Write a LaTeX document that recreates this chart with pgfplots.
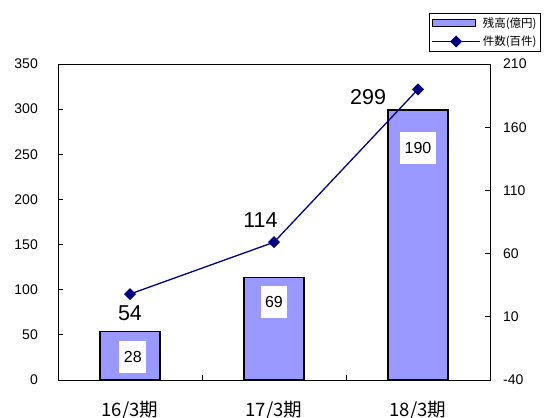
\documentclass[border=0pt]{standalone}
\usepackage{pgfplots}
\pgfplotsset{compat=1.18}
\usepackage{fontspec}
\setmainfont{Liberation Sans}
\newfontfamily\cjk{Noto Sans CJK JP}
\definecolor{barblue}{RGB}{153,153,255}
\definecolor{navyline}{RGB}{0,0,128}
\pgfplotsset{
  lineleg/.style={legend image code/.code={
    \draw[mark repeat=2, mark phase=2, ##1] plot coordinates {(0pt,0pt) (24pt,0pt) (48pt,0pt)};}},
  barleg/.style={legend image code/.code={
    \draw[fill=barblue, draw=black, line width=1pt] (0pt,-3.5pt) rectangle (43pt,3.5pt);}},
}

\begin{document}
\begin{tikzpicture}
\useasboundingbox (0,0) rectangle (552pt,418pt);
\pgfplotsset{
  common/.style={
    at={(58pt,38pt)}, anchor=south west,
    scale only axis, width=432pt, height=316pt,
    xmin=-0.5, xmax=2.5,
    tick align=inside, major tick length=5pt,
    axis line style={line width=0.9pt},
    tick style={line width=0.9pt, black},
    /pgf/number format/assume math mode=true,
    ticklabel style={font=\fontsize{14}{16}\selectfont},
  }
}
% left axis: balance (bars)
\begin{axis}[common,
  ymin=0, ymax=350, ytick={0,50,...,350}, ytick pos=left,
  xtick={0.5,1.5}, xticklabels={,}, xtick pos=bottom,
  extra x ticks={0,1,2},
  extra x tick labels={16/3期,17/3期,18/3期},
  extra x tick style={major tick length=0pt,
    tick label style={font=\cjk\fontsize{18.5}{20}\selectfont, anchor=base, yshift=-36pt}},
  yticklabel style={anchor=east, inner sep=0pt, xshift=-20pt},
]
\addplot[ybar, bar width=60pt, fill=barblue, draw=black, line width=1.1pt]
  coordinates {(0,54) (1,114) (2,299)};
\node[font=\fontsize{21.5}{24}\selectfont] at (axis cs:0,74) {54};
\node[font=\fontsize{21.5}{24}\selectfont] at (axis cs:0.906,177) {114};
\node[font=\fontsize{21.5}{24}\selectfont] at (axis cs:1.653,313) {299};
\tikzset{inbox/.style={fill=white, inner xsep=4.5pt, inner ysep=0pt,
  minimum height=32pt, font=\fontsize{16}{18}\selectfont}}
\node[inbox] at (axis cs:0.02,25.7) {28};
\node[inbox] at (axis cs:1,86.6) {69};
\node[inbox] at (axis cs:2,257.5) {190};
\end{axis}
% right axis: number of cases (line)
\begin{axis}[common,
  ymin=-40, ymax=210, ytick={-40,10,...,210},
  axis y line*=right, hide x axis,
  yticklabel style={anchor=west, inner sep=0pt, xshift=13pt},
  legend style={at={(axis description cs:0.859,1.161)}, anchor=north west,
    draw=black, line width=0.8pt, font=\cjk\fontsize{11.5}{13}\selectfont,
    inner xsep=2pt, inner ysep=2pt, row sep=3pt, cells={anchor=west}},
]
\addlegendimage{barleg}
\addlegendentry{残高(億円)}
\addplot[navyline, line width=1.3pt, mark=square*,
  mark size=3.6pt, mark options={rotate=45, solid}, lineleg]
  coordinates {(0,28) (1,69) (2,190)};
\addlegendentry{件数(百件)}
\end{axis}
\end{tikzpicture}
\end{document}
